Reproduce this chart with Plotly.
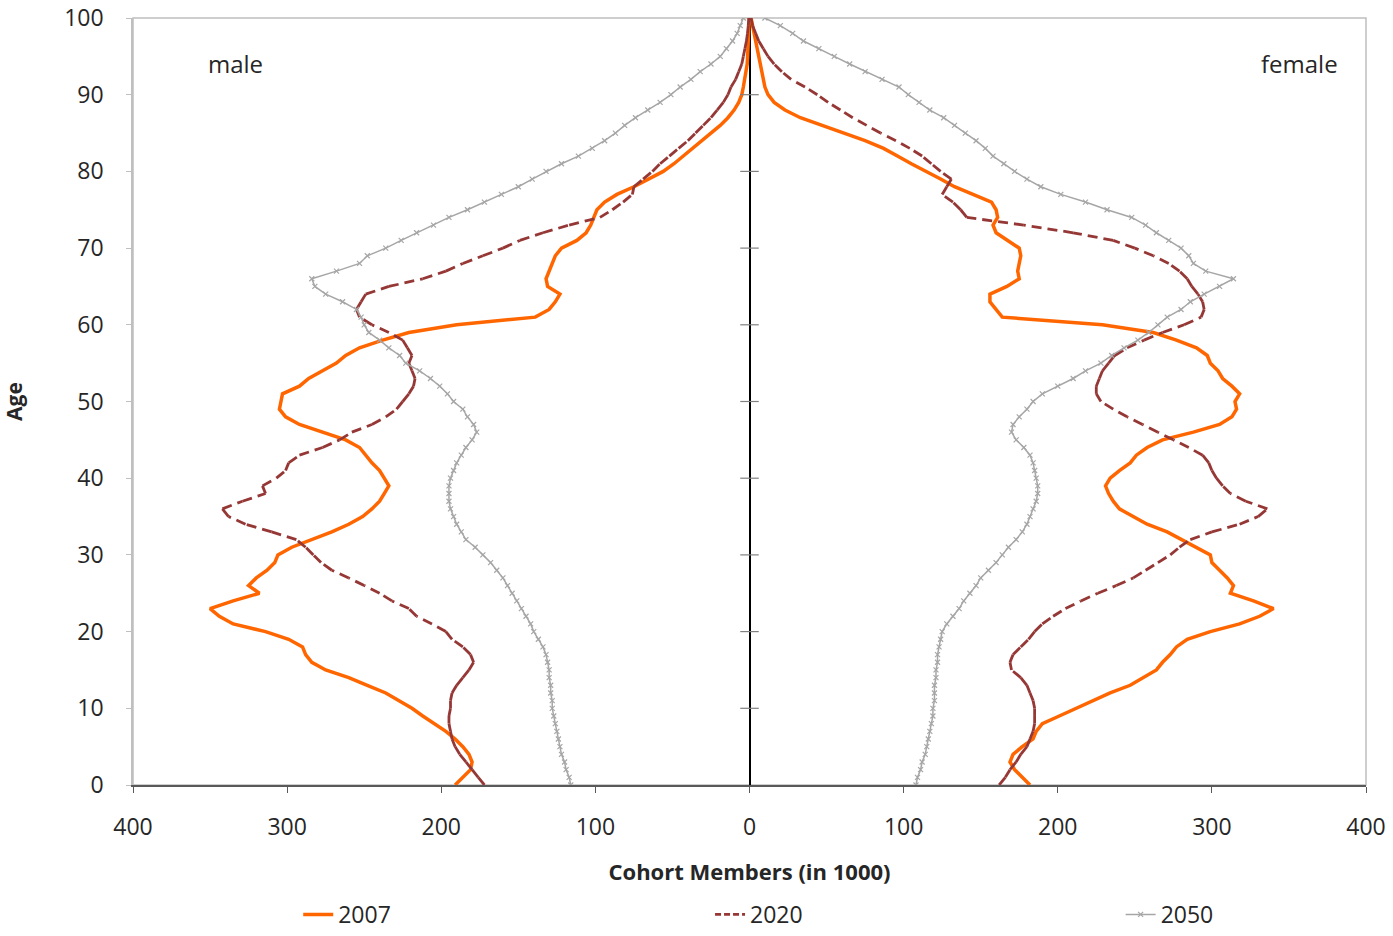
import plotly.graph_objects as go

ages = list(range(0, 101))

male_2007 = [191, 186, 181, 180, 182, 186, 191, 197, 205, 212, 219, 228, 236, 248, 260, 275, 284, 288, 290, 299,
             314, 335, 344, 350, 335, 318, 325, 320, 313, 308, 306, 297, 284, 271, 260, 251, 245, 240, 237, 234,
             237, 240, 245, 249, 253, 262, 277, 292, 301, 305, 304, 303, 292, 286, 277, 268, 262, 253, 238, 221,
             190, 139, 130, 126, 123, 131, 132, 130, 128, 126, 122, 112, 106, 103, 101, 99, 94, 86, 75, 65,
             56, 49, 43, 37, 31, 25, 19, 14, 10, 7, 5, 4, 3, 2, 1.5, 1.2, 0.9, 0.6, 0.4, 0.3, 0.2]

male_2020 = [172, 176, 180, 184, 188, 191, 193, 194, 195, 195, 194, 194, 193, 190, 186, 182, 179, 181, 186, 193,
             197, 206, 216, 221, 232, 240, 250, 260, 271, 278, 283, 288, 294, 310, 327, 338, 342, 329, 314, 316,
             307, 301, 299, 292, 277, 266, 258, 245, 236, 229, 225, 221, 218, 217, 219, 221, 219, 222, 225, 234,
             245, 253, 255, 252, 249, 234, 212, 197, 186, 173, 160, 149, 134, 117, 97, 89, 82, 76, 75, 69,
             63, 58, 52, 46, 40, 35, 30, 25, 21, 17, 14, 12, 9, 7, 5, 4, 3, 2, 1.3, 0.8, 0.4]

male_2050 = [116, 117, 119, 120, 122, 123, 124, 125, 126, 127, 128, 128, 129, 129, 130, 130, 131, 132, 134, 137,
             140, 142, 145, 148, 151, 154, 157, 160, 164, 168, 173, 178, 184, 187, 190, 192, 194, 195, 195, 195,
             194, 192, 190, 187, 184, 180, 177, 179, 183, 186, 192, 196, 201, 207, 214, 223, 227, 234, 240, 247,
             250, 252, 255, 264, 275, 282, 284, 268, 253, 248, 236, 226, 216, 205, 195, 183, 172, 161, 150, 141,
             132, 122, 111, 102, 94, 87, 81, 74, 66, 58, 51, 45, 38, 32, 25, 19, 15, 11, 8, 6, 4]

female_2007 = [182, 177, 172, 169, 171, 177, 184, 186, 190, 201, 212, 223, 234, 247, 255, 264, 268, 273, 277, 284,
               299, 318, 331, 340, 327, 312, 314, 310, 305, 300, 299, 290, 281, 271, 258, 249, 240, 236, 233, 231,
               234, 240, 247, 251, 258, 268, 288, 305, 313, 316, 315, 318, 313, 307, 304, 299, 297, 290, 277, 262,
               229, 164, 160, 156, 156, 167, 175, 174, 175, 176, 175, 167, 160, 158, 161, 160, 157, 145, 133, 124,
               114, 105, 96, 87, 75, 61, 46, 33, 23, 16, 12, 10, 9, 8, 7, 6, 5, 4, 3, 2, 1]

female_2020 = [162, 166, 169, 173, 176, 180, 182, 184, 185, 185, 185, 184, 182, 180, 176, 170, 169, 171, 176, 181,
               185, 190, 197, 205, 215, 226, 238, 249, 257, 265, 273, 279, 286, 300, 318, 330, 336, 322, 312, 307,
               303, 300, 298, 294, 285, 275, 265, 255, 245, 236, 228, 225, 225, 227, 229, 233, 237, 245, 256, 268,
               282, 293, 295, 294, 291, 287, 284, 279, 272, 262, 250, 236, 210, 178, 141, 137, 132, 125, 128, 131,
               124, 118, 112, 104, 95, 85, 76, 67, 59, 51, 44, 36, 27, 21, 16, 12, 9, 6, 4, 2, 1]

female_2050 = [108, 109, 111, 112, 114, 115, 116, 117, 118, 119, 119, 120, 120, 120, 121, 121, 122, 122, 123, 124,
               125, 128, 132, 136, 139, 143, 147, 150, 155, 160, 164, 168, 173, 177, 180, 182, 184, 186, 187, 187,
               186, 185, 184, 182, 178, 173, 170, 171, 175, 180, 184, 190, 200, 210, 218, 228, 235, 243, 252, 259,
               265, 271, 280, 286, 295, 305, 314, 296, 288, 285, 280, 272, 264, 257, 248, 232, 218, 202, 189, 180,
               172, 165, 158, 153, 147, 140, 133, 126, 117, 110, 103, 97, 86, 75, 65, 55, 45, 35, 28, 20, 10]

x_ticks = [-400, -300, -200, -100, 0, 100, 200, 300, 400]
x_tick_labels = ["400", "300", "200", "100", "0", "100", "200", "300", "400"]
y_ticks = [0, 10, 20, 30, 40, 50, 60, 70, 80, 90, 100]

FONT = "Open Sans"
TXT = "#262626"
C2007 = "#FF6600"
C2020 = "#953735"
C2050 = "#A6A6A6"

fig = go.Figure()

line_2007 = dict(color=C2007, width=3.5)
line_2020 = dict(color=C2020, width=2.8, dash="10px,6px")
line_2050 = dict(color=C2050, width=1.5)
marker_2050 = dict(symbol="x-thin", size=5, line=dict(color=C2050, width=1.2))

# 2007
fig.add_trace(go.Scatter(x=[-v for v in male_2007], y=ages, mode="lines", line=line_2007,
                         name="2007", legendgroup="2007", legend="legend", showlegend=True))
fig.add_trace(go.Scatter(x=female_2007, y=ages, mode="lines", line=line_2007,
                         name="2007", legendgroup="2007", legend="legend", showlegend=False))

# 2020: dash pattern restarts on every age step (as in the original spreadsheet rendering)
for side in ([-v for v in male_2020], female_2020):
    for i in range(len(ages) - 1):
        fig.add_trace(go.Scatter(x=side[i:i + 2], y=ages[i:i + 2], mode="lines", line=line_2020,
                                 name="2020", legendgroup="2020", legend="legend2",
                                 showlegend=False, hoverinfo="skip"))
fig.add_trace(go.Scatter(x=[None], y=[None], mode="lines", line=dict(color=C2020, width=2.8, dash="6px,3px"),
                         name="2020", legendgroup="2020", legend="legend2", showlegend=True))

# 2050
fig.add_trace(go.Scatter(x=[-v for v in male_2050], y=ages, mode="lines+markers", line=line_2050,
                         marker=marker_2050, name="2050", legendgroup="2050", legend="legend3", showlegend=True))
fig.add_trace(go.Scatter(x=female_2050, y=ages, mode="lines+markers", line=line_2050,
                         marker=marker_2050, name="2050", legendgroup="2050", legend="legend3", showlegend=False))

# central axis tick marks (crossing) at each age tick
for yt in y_ticks[1:-1]:
    fig.add_shape(type="line", xref="x", yref="y", x0=-6, x1=6, y0=yt, y1=yt,
                  line=dict(color="#808080", width=1.2), layer="above")

# light plot-area border
fig.add_shape(type="rect", xref="paper", yref="paper", x0=0, x1=1, y0=0, y1=1,
              line=dict(color="#BFBFBF", width=1.5), layer="below")

fig.add_annotation(text="male", xref="paper", yref="y", x=0.083, y=94.1, showarrow=False,
                   xanchor="center", yanchor="middle", font=dict(family=FONT, size=24, color=TXT))
fig.add_annotation(text="female", xref="paper", yref="y", x=0.946, y=94.1, showarrow=False,
                   xanchor="center", yanchor="middle", font=dict(family=FONT, size=24, color=TXT))

leg_common = dict(orientation="h", yref="container", y=0.0, yanchor="bottom", xanchor="left",
                  font=dict(family=FONT, size=23, color=TXT), bgcolor="rgba(0,0,0,0)")

fig.update_layout(
    width=1393, height=936,
    margin=dict(l=133, r=27, t=18, b=151, autoexpand=False),
    paper_bgcolor="white", plot_bgcolor="white",
    font=dict(family=FONT, size=20, color=TXT),
    showlegend=True,
    legend=dict(x=0.134, **leg_common),
    legend2=dict(x=0.468, **leg_common),
    legend3=dict(x=0.801, **leg_common),
    xaxis=dict(range=[-400, 400], tickvals=x_ticks, ticktext=x_tick_labels,
               showgrid=False, zeroline=True, zerolinecolor="#000000", zerolinewidth=1.5,
               showline=True, linecolor="#595959", linewidth=2,
               ticks="outside", ticklen=6, tickcolor="#595959", tickwidth=1,
               tickfont=dict(size=23), ticklabelstandoff=14, automargin=False,
               ticklabeloverflow="allow",
               title=dict(text="<b>Cohort Members (in 1000)</b>", font=dict(size=22), standoff=24)),
    yaxis=dict(range=[0, 100], tickvals=y_ticks, showgrid=False, zeroline=False,
               showline=True, linecolor="#BFBFBF", linewidth=1.5,
               ticks="outside", ticklen=5, tickcolor="#BFBFBF",
               tickfont=dict(size=23), ticklabelstandoff=18, automargin=False,
               ticklabeloverflow="allow",
               title=dict(text="<b>Age</b>", font=dict(size=21), standoff=40)),
)

fig.write_html("out.html", config={"displayModeBar": False},
               post_script="document.body.style.margin='0';")
